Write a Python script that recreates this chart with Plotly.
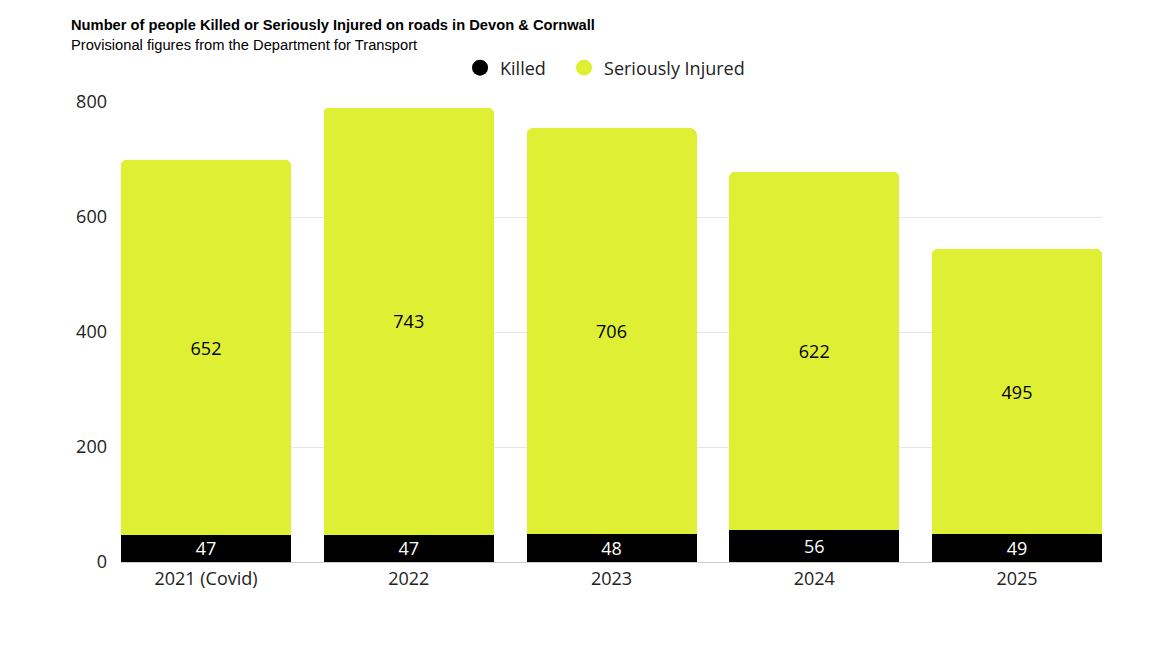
import plotly.graph_objects as go

# ── data ──
years = ["2021 (Covid)", "2022", "2023", "2024", "2025"]
killed = [47, 47, 48, 56, 49]
seriously_injured = [652, 743, 706, 622, 495]

KILLED_COL = "#000000"
SI_COL = "#dff034"
FONT = "Open Sans"

fig = go.Figure()
fig.add_trace(go.Bar(
    x=years, y=killed, name="Killed", marker=dict(color=KILLED_COL, line_width=0),
    text=killed, textposition="inside", insidetextanchor="middle", textangle=0,
    constraintext="none",
    textfont=dict(color="white", size=18, family=FONT), showlegend=False))
fig.add_trace(go.Bar(
    x=years, y=seriously_injured, name="Seriously Injured",
    marker=dict(color=SI_COL, line_width=0),
    text=seriously_injured, textposition="inside", insidetextanchor="middle", textangle=0,
    constraintext="none",
    textfont=dict(color="black", size=18, family=FONT), showlegend=False))

# legend entries with round markers (one legend each so the spacing can be set)
for name, col, lg in [("Killed", KILLED_COL, "legend"), ("Seriously Injured", SI_COL, "legend2")]:
    fig.add_trace(go.Scatter(
        x=[None], y=[None], mode="markers", name=name, legend=lg,
        marker=dict(symbol="circle", size=18, color=col)))

legend_style = dict(orientation="h", xanchor="left", y=1.074, yanchor="middle",
                    font=dict(size=18, family=FONT, color="#222222"), itemwidth=30)

fig.update_layout(
    width=1157, height=651,
    barmode="stack", bargap=0.1615, barcornerradius=5,
    plot_bgcolor="white", paper_bgcolor="white",
    margin=dict(l=113, r=63, t=94, b=97),
    font=dict(family=FONT, size=18, color="#222222"),
    legend=dict(x=0.3456, **legend_style),
    legend2=dict(x=0.4516, **legend_style),
    xaxis=dict(range=[-0.4193, 4.4193], showgrid=False, showline=True,
               linecolor="#cccccc", linewidth=1, ticks="", tickfont=dict(size=18)),
    yaxis=dict(range=[0, 800], tickvals=[0, 200, 400, 600, 800], showgrid=True,
               gridcolor="#e6e6e6", zeroline=False, tickfont=dict(size=18), ticklabelstandoff=13),
    annotations=[
        dict(text="<b>Number of people Killed or Seriously Injured on roads in Devon & Cornwall</b>",
             xref="paper", yref="paper", x=-0.053, y=1.167, xanchor="left", yanchor="middle",
             showarrow=False, font=dict(family="Liberation Sans", size=14.7, color="#000000")),
        dict(text="Provisional figures from the Department for Transport",
             xref="paper", yref="paper", x=-0.053, y=1.1235, xanchor="left", yanchor="middle",
             showarrow=False, font=dict(family="Liberation Sans", size=14.7, color="#000000")),
    ],
)

fig.write_html("out.html")
